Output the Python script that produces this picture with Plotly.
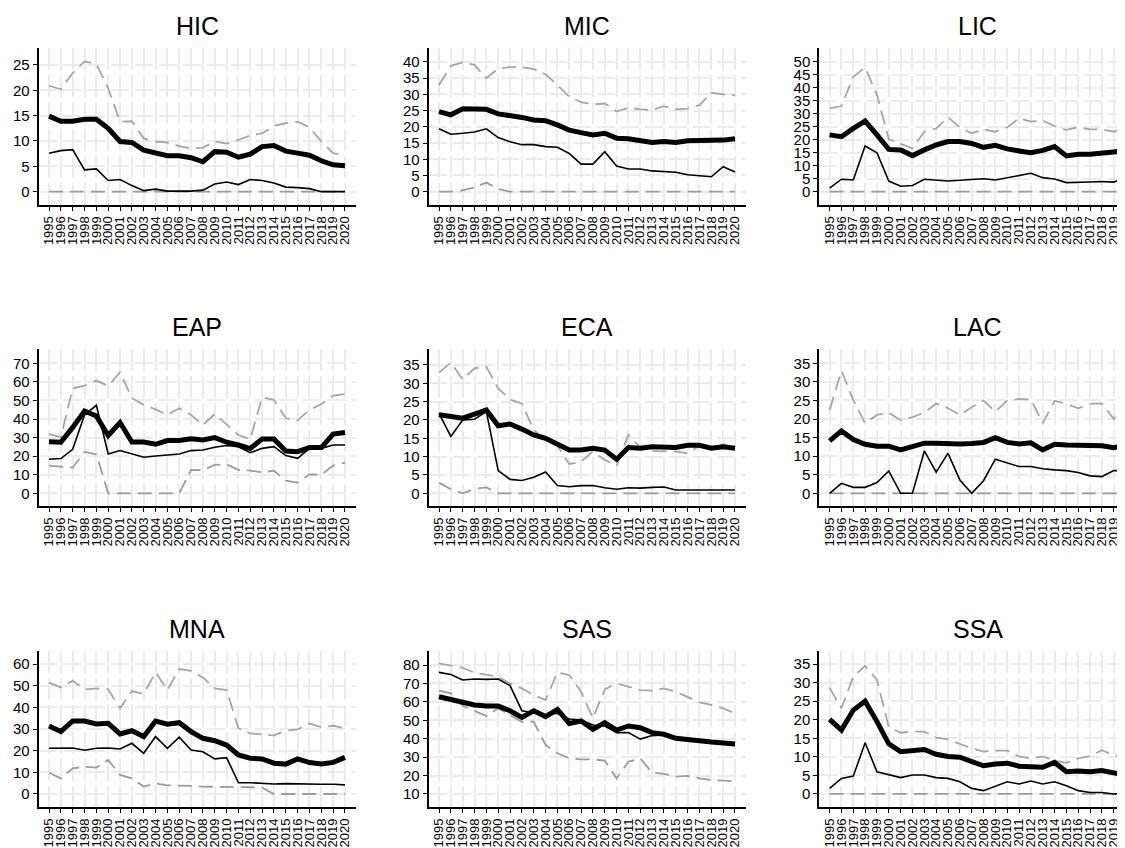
import plotly.graph_objects as go

years = list(range(1995, 2021))

hic_avg = [14.9,13.9,13.9,14.3,14.3,12.5,9.9,9.7,8.2,7.7,7.1,7.1,6.7,5.9,7.9,7.8,6.8,7.4,8.9,9.1,8.0,7.6,7.2,6.1,5.3,5.1]
hic_med = [7.6,8.1,8.3,4.3,4.5,2.2,2.4,1.2,0.2,0.5,0.1,0.1,0.1,0.3,1.5,1.9,1.4,2.4,2.2,1.7,0.9,0.8,0.6,0.0,0.0,0.0]
hic_hi = [20.9,20.2,23.4,25.7,25.2,20.4,13.8,13.9,10.5,9.9,9.7,9.0,8.5,8.7,9.9,9.5,10.2,11.1,11.5,13.0,13.5,13.8,12.7,9.9,7.6,7.2]
hic_lo = [0,0,0,0,0,0,0,0,0,0,0,0,0,0,0,0,0,0,0,0,0,0,0,0,0,0]

mic_avg = [24.7,23.7,25.6,25.6,25.4,24.0,23.5,22.9,22.1,21.9,20.6,19.0,18.2,17.5,18.0,16.5,16.3,15.9,15.2,15.5,15.2,15.7,15.7,15.7,15.9,16.3]
mic_med = [19.4,17.7,18.0,18.4,19.4,16.7,15.4,14.5,14.5,13.9,13.7,11.8,8.5,8.5,12.3,7.9,7.0,7.0,6.4,6.1,6.0,5.2,5.0,4.6,7.7,6.1]
mic_hi = [32.9,38.8,39.9,39.1,35.0,38.0,38.4,38.4,37.8,36.2,32.9,29.3,27.6,26.9,27.2,24.7,25.9,25.4,25.2,26.4,25.4,25.6,26.7,30.5,30.0,29.7]
mic_lo = [0,0,0.4,1.3,2.8,0.8,0,0,0,0,0,0,0,0,0,0,0,0,0,0,0,0,0,0,0,0]

lic_avg = [21.9,21.2,24.4,27.2,21.9,16.3,16.1,13.9,16.1,18.0,19.3,19.3,18.6,17.1,17.9,16.5,15.7,15.0,15.9,17.4,13.8,14.4,14.4,14.7,15.3,15.8]
lic_med = [1.4,4.8,4.5,17.6,15.0,4.1,2.1,2.4,4.8,4.4,4.1,4.4,4.8,5.0,4.5,5.4,6.4,7.1,5.4,4.9,3.5,3.5,3.7,3.9,3.7,5.4]
lic_hi = [32.1,33.0,44.3,47.9,37.3,20.2,18.4,16.7,23.1,24.4,28.7,24.8,22.5,24.0,23.1,24.8,28.3,27.0,27.4,25.3,23.8,24.8,24.0,24.0,23.1,24.8]
lic_lo = [0,0,0,0,0,0,0,0,0,0,0,0,0,0,0,0,0,0,0,0,0,0,0,0,0,0]

eap_avg = [27.8,27.5,35.5,44.3,41.6,31.1,38.1,27.6,27.6,26.4,28.4,28.4,29.4,28.7,30.0,27.5,26.0,24.1,29.3,29.3,22.8,22.4,24.6,24.6,31.9,32.7]
eap_med = [18.3,18.7,23.7,42.2,47.4,21.2,23.0,21.4,19.4,20.1,20.5,21.2,23.0,23.3,24.8,25.7,25.1,21.9,24.2,25.1,20.3,18.8,24.2,24.2,26.0,26.0]
eap_hi = [31.8,30.2,56.5,58.0,60.7,57.8,65.2,51.2,47.6,45.2,42.2,45.8,42.2,36.8,42.7,36.8,31.4,29.1,51.7,50.3,40.4,39.3,44.9,48.1,52.6,53.5]
eap_lo = [14.9,14.2,13.8,22.3,21.0,0,0,0,0,0,0,0,12.6,12.4,15.3,15.6,12.6,12.2,11.3,12.2,6.8,5.7,10.2,9.9,14.9,16.5]

eca_avg = [21.4,20.9,20.5,21.6,22.7,18.4,18.9,17.5,15.9,15.0,13.5,11.8,11.8,12.3,11.8,9.3,12.5,12.3,12.7,12.5,12.5,13.1,13.1,12.3,12.7,12.3]
eca_med = [21.8,15.5,20.0,20.2,22.3,6.2,3.8,3.5,4.4,5.8,2.1,1.8,2.1,2.1,1.5,1.1,1.5,1.4,1.6,1.7,0.9,0.9,0.8,0.7,0.9,0.9]
eca_hi = [32.9,35.6,31.1,34.1,34.5,28.6,25.6,24.5,17.3,14.5,12.9,8.0,8.6,11.4,9.1,7.5,15.9,12.5,11.5,11.5,11.4,10.9,12.9,11.8,13.4,12.5]
eca_lo = [2.9,1.1,0,1.2,1.6,0,0,0,0,0,0,0,0,0,0,0,0,0,0,0,0,0,0,0,0,0]

lac_avg = [14.1,16.8,14.5,13.2,12.7,12.7,11.7,12.6,13.5,13.5,13.3,13.3,13.4,13.7,15.0,13.7,13.3,13.6,11.7,13.2,13.0,13.0,12.8,12.8,12.3,12.9]
lac_med = [0,2.7,1.6,1.6,2.9,6.0,0,0,11.4,5.7,10.8,3.6,0,3.4,9.2,8.3,7.2,7.2,6.6,6.3,6.1,5.6,4.7,4.5,6.1,6.1]
lac_hi = [22.4,33.0,25.1,18.9,21.1,21.7,19.7,20.5,21.7,24.2,22.9,21.1,23.2,25.0,22.0,25.0,25.4,25.3,18.9,24.9,24.1,22.9,24.1,24.2,20.0,25.1]
lac_lo = [0,0,0,0,0,0,0,0,0,0,0,0,0,0,0,0,0,0,0,0,0,0,0,0,0,0]

mna_avg = [31.4,28.8,33.7,33.7,32.3,32.6,27.7,29.2,26.5,33.7,32.2,32.9,28.8,25.7,24.6,22.6,18.0,16.5,16.2,14.2,13.8,16.2,14.5,13.8,14.6,16.9]
mna_med = [21.1,21.2,21.2,20.2,21.1,21.2,20.8,23.4,18.8,26.5,21.1,26.2,20.3,19.5,16.2,16.8,5.2,5.2,4.9,4.6,4.8,4.6,4.6,4.5,4.5,4.2]
mna_hi = [51.4,49.2,52.3,48.3,48.8,48.3,39.5,47.5,46.2,56.2,48.0,57.7,56.8,53.8,48.8,48.0,30.3,28.0,27.5,27.1,29.2,29.8,32.6,30.8,31.5,30.3]
mna_lo = [9.8,7.2,11.8,12.6,12.2,15.7,8.8,7.2,3.4,4.9,4.0,4.0,3.7,3.4,3.4,3.2,3.2,3.1,2.9,0,0,0,0,0,0,0]

sas_avg = [62.8,61.4,59.6,58.3,57.7,57.7,55.2,51.6,55.2,52.0,55.9,48.3,49.6,45.1,48.7,44.7,46.9,46.0,43.3,42.4,40.2,39.8,38.9,38.2,37.5,37.1]
sas_med = [76.0,74.9,71.9,72.4,72.2,72.4,68.8,55.2,54.1,52.9,53.8,50.7,50.2,47.4,46.9,43.3,43.3,39.8,41.7,42.0,39.8,39.3,38.4,37.9,37.1,36.6]
sas_hi = [80.9,79.6,78.5,75.8,74.6,73.7,70.0,67.3,63.7,61.0,76.0,74.6,65.5,51.1,66.8,70.0,68.2,66.4,66.1,67.3,65.5,62.8,59.7,58.3,56.5,53.8]
sas_lo = [66.1,64.6,57.9,55.2,52.3,56.5,52.9,49.2,49.2,36.6,32.1,29.4,28.8,28.8,28.1,18.5,27.5,29.4,21.6,20.9,19.4,19.8,18.5,17.6,17.2,17.1]

ssa_avg = [20.1,17.2,22.6,25.0,19.5,13.5,11.4,11.8,12.0,10.7,10.1,9.9,8.7,7.6,8.1,8.3,7.5,7.4,7.2,8.5,6.0,6.2,6.0,6.3,5.7,5.1]
ssa_med = [1.5,4.2,4.8,13.8,6.0,5.1,4.4,5.1,5.1,4.4,4.2,3.3,1.5,0.9,2.2,3.3,2.7,3.5,2.7,3.3,2.2,0.9,0.4,0.4,0.0,0.2]
ssa_hi = [28.6,23.1,31.6,34.5,30.7,18.0,16.5,16.8,16.8,15.2,14.7,13.4,12.3,11.4,11.7,11.7,10.1,9.6,10.1,9.0,8.4,9.6,10.2,11.8,10.5,9.6]
ssa_lo = [0,0,0,0,0,0,0,0,0,0,0,0,0,0,0,0,0,0,0,0,0,0,0,0,0,0]

titles = ["HIC", "MIC", "LIC", "EAP", "ECA", "LAC", "MNA", "SAS", "SSA"]
series = [
    (hic_avg, hic_med, hic_hi, hic_lo),
    (mic_avg, mic_med, mic_hi, mic_lo),
    (lic_avg, lic_med, lic_hi, lic_lo),
    (eap_avg, eap_med, eap_hi, eap_lo),
    (eca_avg, eca_med, eca_hi, eca_lo),
    (lac_avg, lac_med, lac_hi, lac_lo),
    (mna_avg, mna_med, mna_hi, mna_lo),
    (sas_avg, sas_med, sas_hi, sas_lo),
    (ssa_avg, ssa_med, ssa_hi, ssa_lo),
]
# y tick labels per panel: first, last, step
y_tick_first = [0, 0, 0, 0, 0, 0, 0, 10, 0]
y_tick_last = [25, 40, 50, 70, 35, 35, 60, 80, 35]
y_tick_step = [5, 5, 5, 10, 5, 5, 10, 10, 5]
y_ranges = [(-2.63, 28.29), (-4.11, 44.22), (-5.14, 55.27),
            (-7.0, 77.54), (-3.55, 39.27), (-3.5, 38.78),
            (-6.15, 66.15), (2.77, 87.77), (-3.59, 38.6)]

# page has an 8px body margin; positions below are in figure pixels
W, H = 1150, 870
col_px = [(30.7, 348.0), (420.7, 738.0), (811.3, 1128.6)]
row_px = [(40.3, 197.0), (341.3, 498.3), (642.7, 799.3)]
x_range = (1994.13, 2020.93)

fig = go.Figure()
ann = []
FONT = "Liberation Sans, Arial, sans-serif"
GRID = "#ebebeb"

for i, (ttl, (avg, med, hi, lo)) in enumerate(zip(titles, series)):
    r, c = divmod(i, 3)
    n = i + 1
    xs = "x" if n == 1 else f"x{n}"
    ys = "y" if n == 1 else f"y{n}"
    for vals, color, width, dash in [(lo, "#9c9c9c", 1.8, "14px,7px"),
                                     (hi, "#a6a6a6", 1.8, "14px,7px"),
                                     (med, "black", 1.6, "solid"),
                                     (avg, "black", 5, "solid")]:
        fig.add_trace(go.Scatter(x=years, y=vals, mode="lines", xaxis=xs, yaxis=ys,
                                 line=dict(color=color, width=width, dash=dash),
                                 showlegend=False, hoverinfo="skip"))
    x0, x1 = col_px[c]
    yt, yb = row_px[r]
    tv = list(range(y_tick_first[i], y_tick_last[i] + 1, y_tick_step[i]))
    xa = dict(domain=[x0 / W, x1 / W], range=list(x_range), anchor=ys,
              tickmode="array", tickvals=years, ticktext=[str(y) for y in years],
              tickangle=-90, ticks="outside", ticklen=4, tickwidth=1.3, tickcolor="black",
              showline=True, linecolor="black", linewidth=2,
              showgrid=True, gridcolor=GRID, gridwidth=2, griddash="22px,5px",
              zeroline=False, tickfont=dict(family=FONT, size=13, color="black"),
              fixedrange=True, automargin=False)
    ya = dict(domain=[1 - yb / H, 1 - yt / H], range=list(y_ranges[i]), anchor=xs,
              tickmode="array", tickvals=tv, ticktext=[str(v) for v in tv],
              ticks="outside", ticklen=4, tickwidth=1.3, tickcolor="black",
              showline=True, linecolor="black", linewidth=2,
              showgrid=True, gridcolor=GRID, gridwidth=2, griddash="18px,6px",
              zeroline=False, tickfont=dict(family=FONT, size=15, color="black"),
              fixedrange=True, automargin=False)
    fig.layout["xaxis" if n == 1 else f"xaxis{n}"] = xa
    fig.layout["yaxis" if n == 1 else f"yaxis{n}"] = ya
    ann.append(dict(text=ttl, x=((x0 + x1) / 2) / W, y=1 - (yt - 22) / H,
                    xref="paper", yref="paper", xanchor="center", yanchor="middle",
                    showarrow=False, font=dict(family=FONT, size=25, color="black")))

fig.update_layout(width=W, height=H, margin=dict(l=0, r=0, t=0, b=0, autoexpand=False),
                  plot_bgcolor="white", paper_bgcolor="white", annotations=ann)
fig.write_html("out.html")
